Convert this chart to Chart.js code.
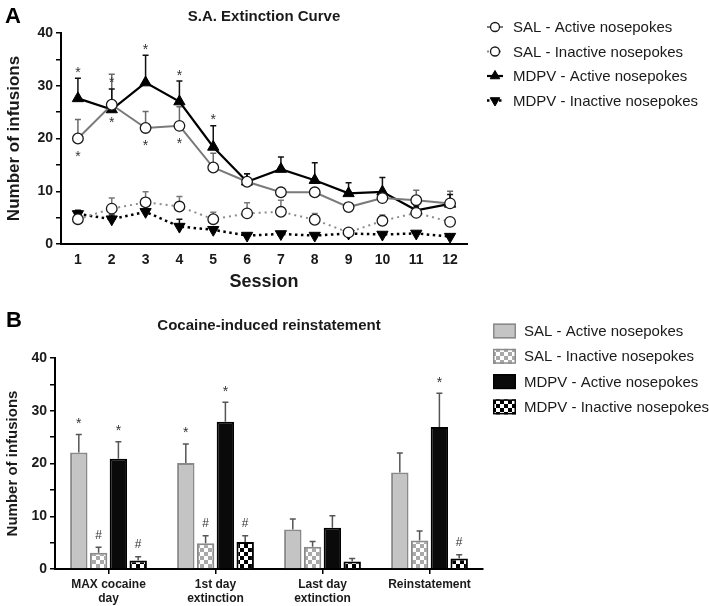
<!DOCTYPE html>
<html>
<head>
<meta charset="utf-8">
<script src="https://cdn.jsdelivr.net/npm/chart.js@4.4.1/dist/chart.umd.min.js"></script>
<style>
  html, body { margin: 0; padding: 0; background: #fff; }
  #wrap { position: relative; width: 709px; height: 606px; }
  #chartA { position: absolute; left: 0; top: 0; }
  #chartB { position: absolute; left: 0; top: 300px; }
</style>
</head>
<body>
<div id="wrap">
  <canvas id="chartA" width="709" height="300"></canvas>
  <canvas id="chartB" width="709" height="306"></canvas>
</div>
<script>
// === Panel A: extinction curve ===
const sessions = ['1', '2', '3', '4', '5', '6', '7', '8', '9', '10', '11', '12'];
const salActive = [20.0, 26.4, 22.0, 22.4, 14.5, 11.8, 9.8, 9.8, 7.0, 8.7, 8.3, 7.7];
const salActiveSem = [3.6, 5.8, 3.1, 3.6, 2.7, 1.5, 0.6, 0.6, 0.6, 0.9, 1.9, 2.3];
const salInactive = [4.7, 6.7, 7.9, 7.1, 4.7, 5.8, 6.1, 4.6, 2.2, 4.4, 5.9, 4.2];
const salInactiveSem = [0.5, 2.0, 2.0, 1.9, 1.3, 2.0, 2.2, 1.2, 0.4, 1.1, 0.6, 0.8];
const mdpvActive = [27.6, 25.5, 30.6, 27.0, 18.4, 11.8, 14.2, 12.1, 9.6, 9.9, 6.4, 7.6];
const mdpvActiveSem = [3.8, 3.9, 5.2, 3.9, 4.0, 1.5, 2.3, 3.3, 2.0, 2.7, 0.8, 1.8];
const mdpvInactive = [5.7, 4.7, 6.1, 3.3, 2.7, 1.6, 1.9, 1.6, 2.0, 1.8, 2.0, 1.4];
const mdpvInactiveSem = [0.7, 0.8, 0.5, 1.4, 0.4, 0.3, 0.4, 0.3, 0.3, 0.3, 0.3, 0.3];
const salActiveMarks = ['*', '*', '*', '*', '', '', '', '', '', '', '', ''];
const mdpvActiveMarks = ['*', '*', '*', '*', '*', '', '', '', '', '', '', ''];

// === Panel B: reinstatement ===
const phases = [['MAX cocaine', 'day'], ['1st day', 'extinction'], ['Last day', 'extinction'], 'Reinstatement'];
const salActiveB = [22.1, 20.1, 7.5, 18.3];
const salActiveBSem = [3.4, 3.6, 2.0, 3.7];
const salInactiveB = [3.1, 4.9, 4.2, 5.4];
const salInactiveBSem = [1.0, 1.4, 1.0, 1.8];
const mdpvActiveB = [20.9, 27.9, 7.8, 26.9];
const mdpvActiveBSem = [3.2, 3.7, 2.3, 6.4];
const mdpvInactiveB = [1.6, 5.1, 1.4, 2.0];
const mdpvInactiveBSem = [0.7, 1.2, 0.6, 0.7];
const salActiveBMarks = ['*', '*', '', ''];
const salInactiveBMarks = ['#', '#', '', ''];
const mdpvActiveBMarks = ['*', '*', '', '*'];
const mdpvInactiveBMarks = ['#', '#', '', '#'];

const FONT = '"Liberation Sans", Arial, sans-serif';
const INK = '#1a1a1a';

function checker(ctx, fg, bg, size) {
  const c = document.createElement('canvas');
  c.width = c.height = size * 2;
  const g = c.getContext('2d');
  g.fillStyle = bg;
  g.fillRect(0, 0, size * 2, size * 2);
  g.fillStyle = fg;
  g.fillRect(0, 0, size, size);
  g.fillRect(size, size, size, size);
  return ctx.createPattern(c, 'repeat');
}

// error bars, significance marks, panel letter and the side legend
const panelDecor = {
  id: 'panelDecor',
  beforeDatasetsDraw(chart, args, opts) {
    if (opts.errFirst) drawErrors(chart, opts);
  },
  afterDatasetsDraw(chart, args, opts) {
    if (!opts.errFirst) drawErrors(chart, opts);
    drawMarks(chart, opts);
  },
  afterDraw(chart, args, opts) {
    const ctx = chart.ctx;
    ctx.save();
    ctx.fillStyle = '#000';
    ctx.font = 'bold 22px ' + FONT;
    ctx.textBaseline = 'alphabetic';
    ctx.textAlign = 'left';
    ctx.fillText(opts.letter, opts.letterX, opts.letterY);

    const lg = opts.legend;
    chart.data.datasets.forEach((ds, i) => {
      const y = lg.y + i * lg.dy;
      if (lg.kind === 'line') {
        ctx.save();
        ctx.strokeStyle = ds.borderColor;
        ctx.lineWidth = ds.borderWidth;
        ctx.setLineDash(ds.borderDash || []);
        ctx.beginPath();
        ctx.moveTo(lg.x, y);
        ctx.lineTo(lg.x + 16, y);
        ctx.stroke();
        ctx.setLineDash([]);
        ctx.fillStyle = ds.pointBackgroundColor;
        ctx.strokeStyle = ds.pointBorderColor;
        ctx.lineWidth = ds.pointBorderWidth;
        Chart.helpers.drawPoint(ctx, {
          pointStyle: ds.pointStyle, rotation: ds.pointRotation || 0,
          radius: ds.pointRadius * 0.85, borderWidth: ds.pointBorderWidth
        }, lg.x + 8, y);
        ctx.restore();
      } else {
        ctx.fillStyle = ds.backgroundColor;
        ctx.fillRect(lg.x, y - 7.5, 23, 15);
        ctx.strokeStyle = ds.borderColor;
        ctx.lineWidth = 1.5;
        ctx.strokeRect(lg.x + 0.75, y - 6.75, 21.5, 13.5);
      }
      ctx.fillStyle = INK;
      ctx.font = '15px ' + FONT;
      ctx.textBaseline = 'middle';
      ctx.fillText(ds.label, lg.textX, y + 1);
    });
    ctx.restore();
  }
};

function drawErrors(chart, opts) {
  const ctx = chart.ctx;
  const ys = chart.scales.y;
  ctx.save();
  chart.data.datasets.forEach((ds, i) => {
    const meta = chart.getDatasetMeta(i);
    ctx.strokeStyle = ds.errColor;
    ctx.lineWidth = 1.5;
    meta.data.forEach((el, j) => {
      const top = ys.getPixelForValue(ds.data[j] + ds.sem[j]);
      ctx.beginPath();
      ctx.moveTo(el.x, el.y);
      ctx.lineTo(el.x, top);
      ctx.moveTo(el.x - opts.cap, top);
      ctx.lineTo(el.x + opts.cap, top);
      ctx.stroke();
    });
  });
  ctx.restore();
}

function drawMarks(chart, opts) {
  const ctx = chart.ctx;
  const ys = chart.scales.y;
  ctx.save();
  ctx.fillStyle = '#333';
  ctx.textAlign = 'center';
  ctx.textBaseline = 'alphabetic';
  chart.data.datasets.forEach((ds, i) => {
    if (!ds.marks) return;
    const meta = chart.getDatasetMeta(i);
    meta.data.forEach((el, j) => {
      const m = ds.marks[j];
      if (!m) return;
      let cy;
      if (ds.markPos === 'below') cy = el.y + opts.below;
      else cy = ys.getPixelForValue(ds.data[j] + ds.sem[j]) - (m === '*' ? opts.above : opts.aboveHash);
      if (m === '*') {
        ctx.font = '14px ' + FONT;
        ctx.fillText(m, el.x, cy + 7.5);
      } else {
        ctx.font = '12px ' + FONT;
        ctx.fillText(m, el.x, cy + 4.5);
      }
    });
  });
  ctx.restore();
}

function yAxis(width, titleSize) {
  return {
    min: 0, max: 40,
    grid: { drawOnChartArea: false, drawTicks: true, tickLength: 5, color: '#000', lineWidth: 1.5 },
    border: { color: '#000', width: 2 },
    ticks: {
      stepSize: 5, padding: 3, color: INK,
      font: { family: FONT, size: 14, weight: 'bold' },
      callback: v => (v % 10 === 0 ? v : '')
    },
    title: { display: true, text: 'Number of infusions', color: INK, padding: { top: 4, bottom: 0 },
      font: { family: FONT, size: titleSize, weight: 'bold' } },
    afterFit: s => { s.width = width; }
  };
}

// === Chart A ===
new Chart(document.getElementById('chartA'), {
  type: 'line',
  data: {
    labels: sessions,
    datasets: [
      { label: 'SAL - Active nosepokes', data: salActive, sem: salActiveSem, marks: salActiveMarks, markPos: 'below',
        borderColor: '#7a7a7a', borderWidth: 2, errColor: '#6a6a6a',
        pointStyle: 'circle', pointRadius: 5.3, pointBackgroundColor: '#fff', pointBorderColor: '#1a1a1a', pointBorderWidth: 1.3 },
      { label: 'SAL - Inactive nosepokes', data: salInactive, sem: salInactiveSem,
        borderColor: '#8c8c8c', borderWidth: 2, borderDash: [2, 4], errColor: '#777',
        pointStyle: 'circle', pointRadius: 5.3, pointBackgroundColor: '#fff', pointBorderColor: '#1a1a1a', pointBorderWidth: 1.3 },
      { label: 'MDPV - Active nosepokes', data: mdpvActive, sem: mdpvActiveSem, marks: mdpvActiveMarks, markPos: 'above',
        borderColor: '#000', borderWidth: 2.2, errColor: '#111',
        pointStyle: 'triangle', pointRadius: 6.5, pointBackgroundColor: '#000', pointBorderColor: '#000', pointBorderWidth: 1 },
      { label: 'MDPV - Inactive nosepokes', data: mdpvInactive, sem: mdpvInactiveSem,
        borderColor: '#000', borderWidth: 2.5, borderDash: [2.5, 3.5], errColor: '#111',
        pointStyle: 'triangle', pointRotation: 180, pointRadius: 6.5, pointBackgroundColor: '#000', pointBorderColor: '#000', pointBorderWidth: 1 }
    ]
  },
  options: {
    responsive: false,
    animation: false,
    layout: { padding: { left: 0, right: 242, top: 0, bottom: 0 } },
    elements: { line: { tension: 0 } },
    plugins: {
      legend: { display: false },
      tooltip: { enabled: false },
      title: { display: true, text: 'S.A. Extinction Curve', fullSize: false, color: INK,
        font: { family: FONT, size: 15, weight: 'bold' }, padding: { top: 8, bottom: 7 } },
      panelDecor: { errFirst: true, cap: 3, above: 9, aboveHash: 9, below: 15,
        letter: 'A', letterX: 5, letterY: 23,
        legend: { kind: 'line', x: 487, textX: 513, y: 27, dy: 24.5 } }
    },
    scales: {
      x: {
        type: 'category', offset: true,
        grid: { drawOnChartArea: false, drawTicks: false },
        border: { color: '#000', width: 2 },
        ticks: { color: INK, padding: 8, font: { family: FONT, size: 14, weight: 'bold' } },
        title: { display: true, text: 'Session', color: INK, padding: { top: 0, bottom: 7 },
          font: { family: FONT, size: 18, weight: 'bold' } },
        afterFit: s => { s.height = 56; }
      },
      y: yAxis(61, 17)
    }
  },
  plugins: [panelDecor]
});

// === Chart B ===
const ctxB = document.getElementById('chartB').getContext('2d');
const salCheck = checker(ctxB, '#a9a9a9', '#fff', 4);
const mdpvCheck = checker(ctxB, '#000', '#fff', 4);

new Chart(ctxB, {
  type: 'bar',
  data: {
    labels: phases,
    datasets: [
      { label: 'SAL - Active nosepokes', data: salActiveB, sem: salActiveBSem, marks: salActiveBMarks,
        backgroundColor: '#c4c4c4', borderColor: '#8a8a8a', borderWidth: 2, errColor: '#555' },
      { label: 'SAL - Inactive nosepokes', data: salInactiveB, sem: salInactiveBSem, marks: salInactiveBMarks,
        backgroundColor: salCheck, borderColor: '#8a8a8a', borderWidth: 2, errColor: '#555' },
      { label: 'MDPV - Active nosepokes', data: mdpvActiveB, sem: mdpvActiveBSem, marks: mdpvActiveBMarks,
        backgroundColor: '#0a0a0a', borderColor: '#000', borderWidth: 2, errColor: '#555' },
      { label: 'MDPV - Inactive nosepokes', data: mdpvInactiveB, sem: mdpvInactiveBSem, marks: mdpvInactiveBMarks,
        backgroundColor: mdpvCheck, borderColor: '#000', borderWidth: 2, errColor: '#555' }
    ]
  },
  options: {
    responsive: false,
    animation: false,
    layout: { padding: { left: 0, right: 226, top: 0, bottom: 0 } },
    datasets: { bar: { categoryPercentage: 0.74, barPercentage: 0.88 } },
    plugins: {
      legend: { display: false },
      tooltip: { enabled: false },
      title: { display: true, text: 'Cocaine-induced reinstatement', fullSize: false, color: INK,
        font: { family: FONT, size: 15, weight: 'bold' }, padding: { top: 16.5, bottom: 23.5 } },
      panelDecor: { errFirst: false, cap: 3, above: 14, aboveHash: 13, below: 15,
        letter: 'B', letterX: 6, letterY: 27,
        legend: { kind: 'box', x: 493, textX: 524, y: 31, dy: 25.3 } }
    },
    scales: {
      x: {
        grid: { offset: false, drawOnChartArea: false, drawTicks: true, tickLength: 5, color: '#000', lineWidth: 1.5 },
        border: { color: '#000', width: 2 },
        ticks: { color: INK, padding: 3, maxRotation: 0, autoSkip: false,
          font: { family: FONT, size: 12, weight: 'bold' } },
        afterFit: s => { s.height = 37; }
      },
      y: yAxis(55, 15)
    }
  },
  plugins: [panelDecor]
});
</script>
</body>
</html>
